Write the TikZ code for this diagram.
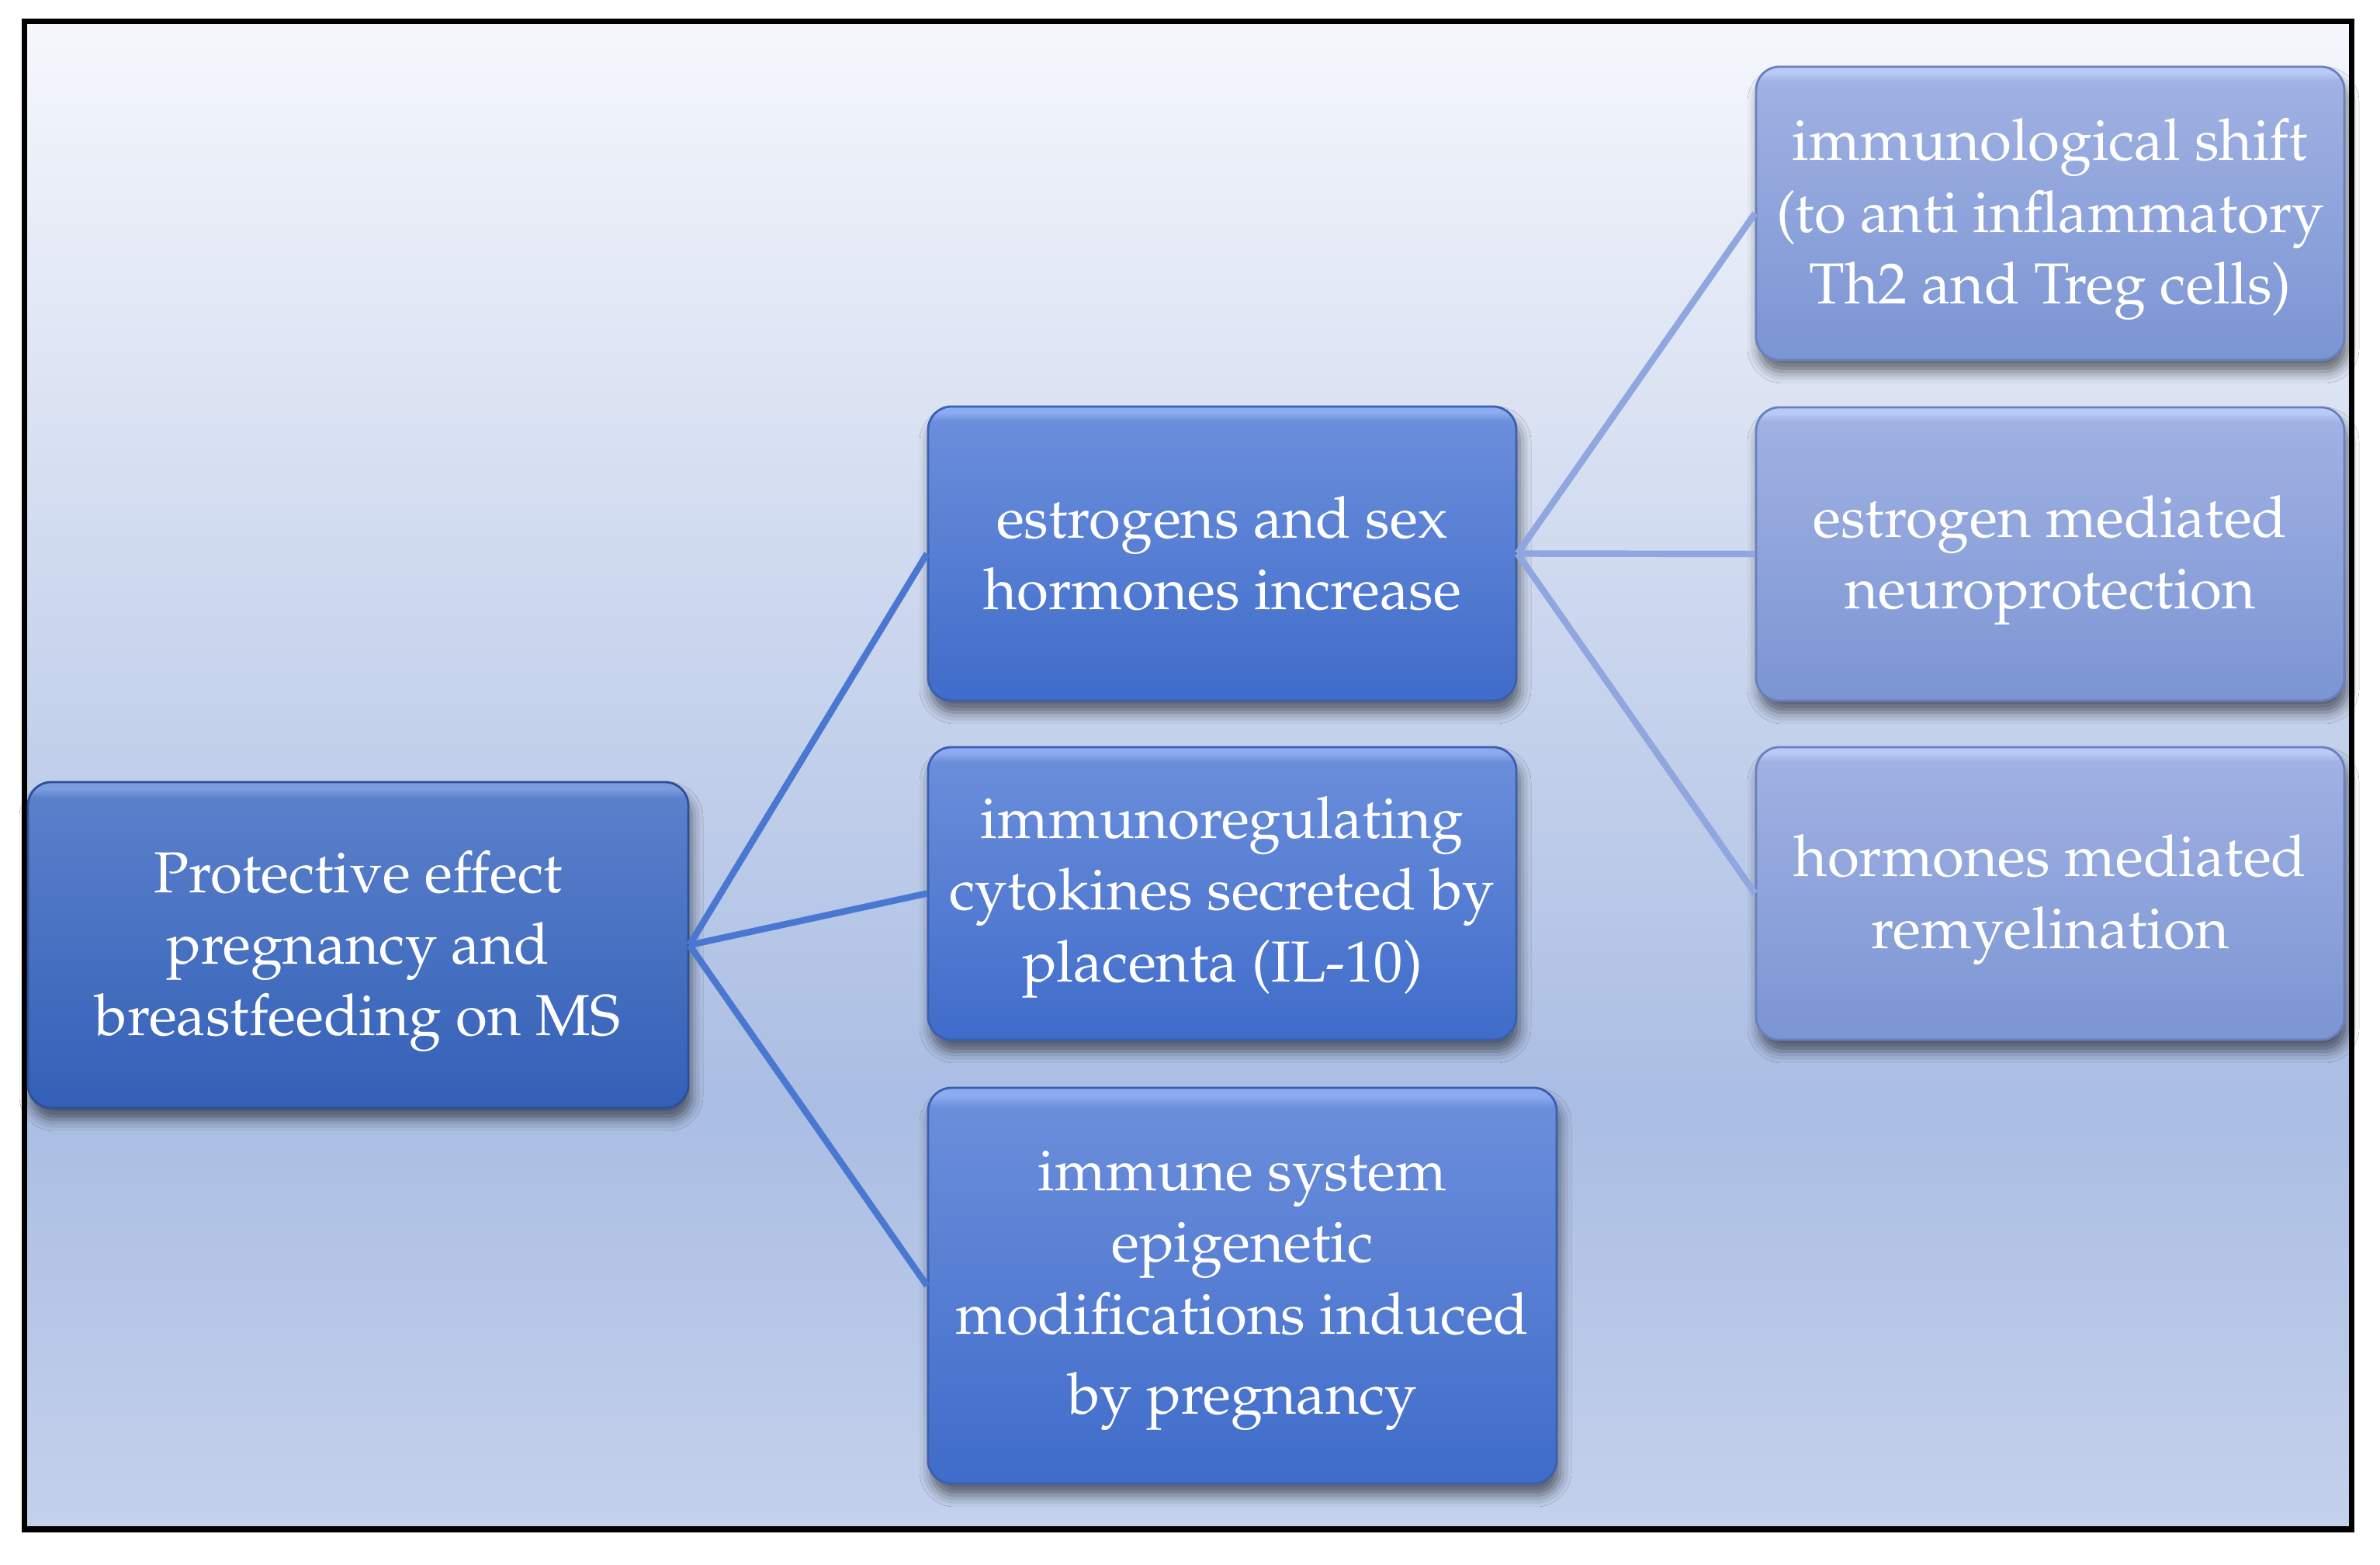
\documentclass[tikz,border=0pt]{standalone}
\usepackage[T1]{fontenc}
\usepackage{mathpazo}
\usetikzlibrary{shadows.blur}
\definecolor{bgtop}{HTML}{F5F7FC}
\definecolor{bgmid}{HTML}{AABDE3}
\definecolor{bgbot}{HTML}{C4D1EC}
\definecolor{roottop}{HTML}{5A80CB}
\definecolor{rootbot}{HTML}{3360B7}
\definecolor{roothi}{HTML}{7C9CE0}
\definecolor{midtop}{HTML}{6B8EDB}
\definecolor{midbot}{HTML}{3F6CCA}
\definecolor{midhi}{HTML}{8CABF0}
\definecolor{rtop}{HTML}{A0B1E3}
\definecolor{rbot}{HTML}{7B95D3}
\definecolor{rhi}{HTML}{BACAF6}
\definecolor{rootedge}{HTML}{2E4F96}
\definecolor{midedge}{HTML}{3A5FAE}
\definecolor{redge}{HTML}{6A80BE}
\definecolor{linedark}{HTML}{4A78D0}
\definecolor{linelight}{HTML}{8FA6DF}
\pgfdeclareverticalshading{bgshade}{100bp}{color(0bp)=(bgbot); color(25bp)=(bgbot); color(39bp)=(bgmid); color(75bp)=(bgtop); color(100bp)=(bgtop)}
\pgfdeclareverticalshading{rootshade}{100bp}{color(0bp)=(rootbot); color(25bp)=(rootbot); color(72.5bp)=(roottop); color(74bp)=(roothi); color(100bp)=(roothi)}
\pgfdeclareverticalshading{midshade}{100bp}{color(0bp)=(midbot); color(25bp)=(midbot); color(72.5bp)=(midtop); color(74bp)=(midhi); color(100bp)=(midhi)}
\pgfdeclareverticalshading{rshade}{100bp}{color(0bp)=(rbot); color(25bp)=(rbot); color(72.5bp)=(rtop); color(74bp)=(rhi); color(100bp)=(rhi)}
\tikzset{
  boxbase/.style={rectangle, rounded corners=0.3cm, inner sep=0pt, line width=0.8pt,
    blur shadow={shadow xshift=0.04cm, shadow yshift=-0.15cm, shadow blur radius=0.15cm, shadow opacity=55}},
  rootbox/.style={boxbase, shade, shading=rootshade, draw=rootedge},
  midbox/.style={boxbase, shade, shading=midshade, draw=midedge},
  rbox/.style={boxbase, shade, shading=rshade, draw=redge},
  boxtext/.style={inner sep=0pt, align=center, text=white, font=\fontsize{21.2pt}{26.3pt}\selectfont},
  darkline/.style={draw=linedark, line width=2.4pt},
  lightline/.style={draw=linelight, line width=2.4pt}
}
\begin{document}
\begin{tikzpicture}
\useasboundingbox (0,0) rectangle (30.67,20.17);
\fill[white] (0,0) rectangle (30.67,20.17);
\shade[shading=bgshade] (0.315,0.46) rectangle (30.30,19.895);
\draw[black, line width=2pt] (0.315,0.46) rectangle (30.30,19.895);

\node[rootbox, minimum width=8.51cm, minimum height=4.20cm] (root) at (4.615,7.99) {};
\node[midbox, minimum width=7.58cm, minimum height=3.79cm] (m1) at (15.75,13.035) {};
\node[midbox, minimum width=7.58cm, minimum height=3.77cm] (m2) at (15.75,8.655) {};
\node[midbox, minimum width=8.10cm, minimum height=5.10cm] (m3) at (16.01,3.60) {};
\node[rbox, minimum width=7.58cm, minimum height=3.78cm] (r1) at (26.42,17.42) {};
\node[rbox, minimum width=7.58cm, minimum height=3.78cm] (r2) at (26.42,13.03) {};
\node[rbox, minimum width=7.58cm, minimum height=3.77cm] (r3) at (26.42,8.655) {};

\node[boxtext] (roott) at ([yshift=-0.08cm]root.center) {Protective effect\\pregnancy and\\breastfeeding on MS};
\node[boxtext] (m1t) at (m1.center) {estrogens and sex\\hormones increase};
\node[boxtext] (m2t) at ([yshift=-0.05cm]m2.center) {immunoregulating\\cytokines secreted by\\placenta (IL-10)};
\node[boxtext] (m3t) at ([yshift=-0.06cm]m3.center) {immune system\\epigenetic\\modifications induced\\[3pt]by pregnancy};
\node[boxtext] (r1t) at ([yshift=-0.08cm]r1.center) {immunological shift\\(to anti inflammatory\\Th2 and Treg cells)};
\node[boxtext] (r2t) at ([yshift=-0.08cm]r2.center) {estrogen mediated\\neuroprotection};
\node[boxtext] (r3t) at ([yshift=-0.08cm]r3.center) {hormones mediated\\remyelination};

\draw[darkline] (root.east) -- (m1.west);
\draw[darkline] (root.east) -- (m2.west);
\draw[darkline] (root.east) -- (m3.west);
\draw[lightline] (m1.east) -- (r1.west);
\draw[lightline] (m1.east) -- (r2.west);
\draw[lightline] (m1.east) -- (r3.west);
\end{tikzpicture}
\end{document}
